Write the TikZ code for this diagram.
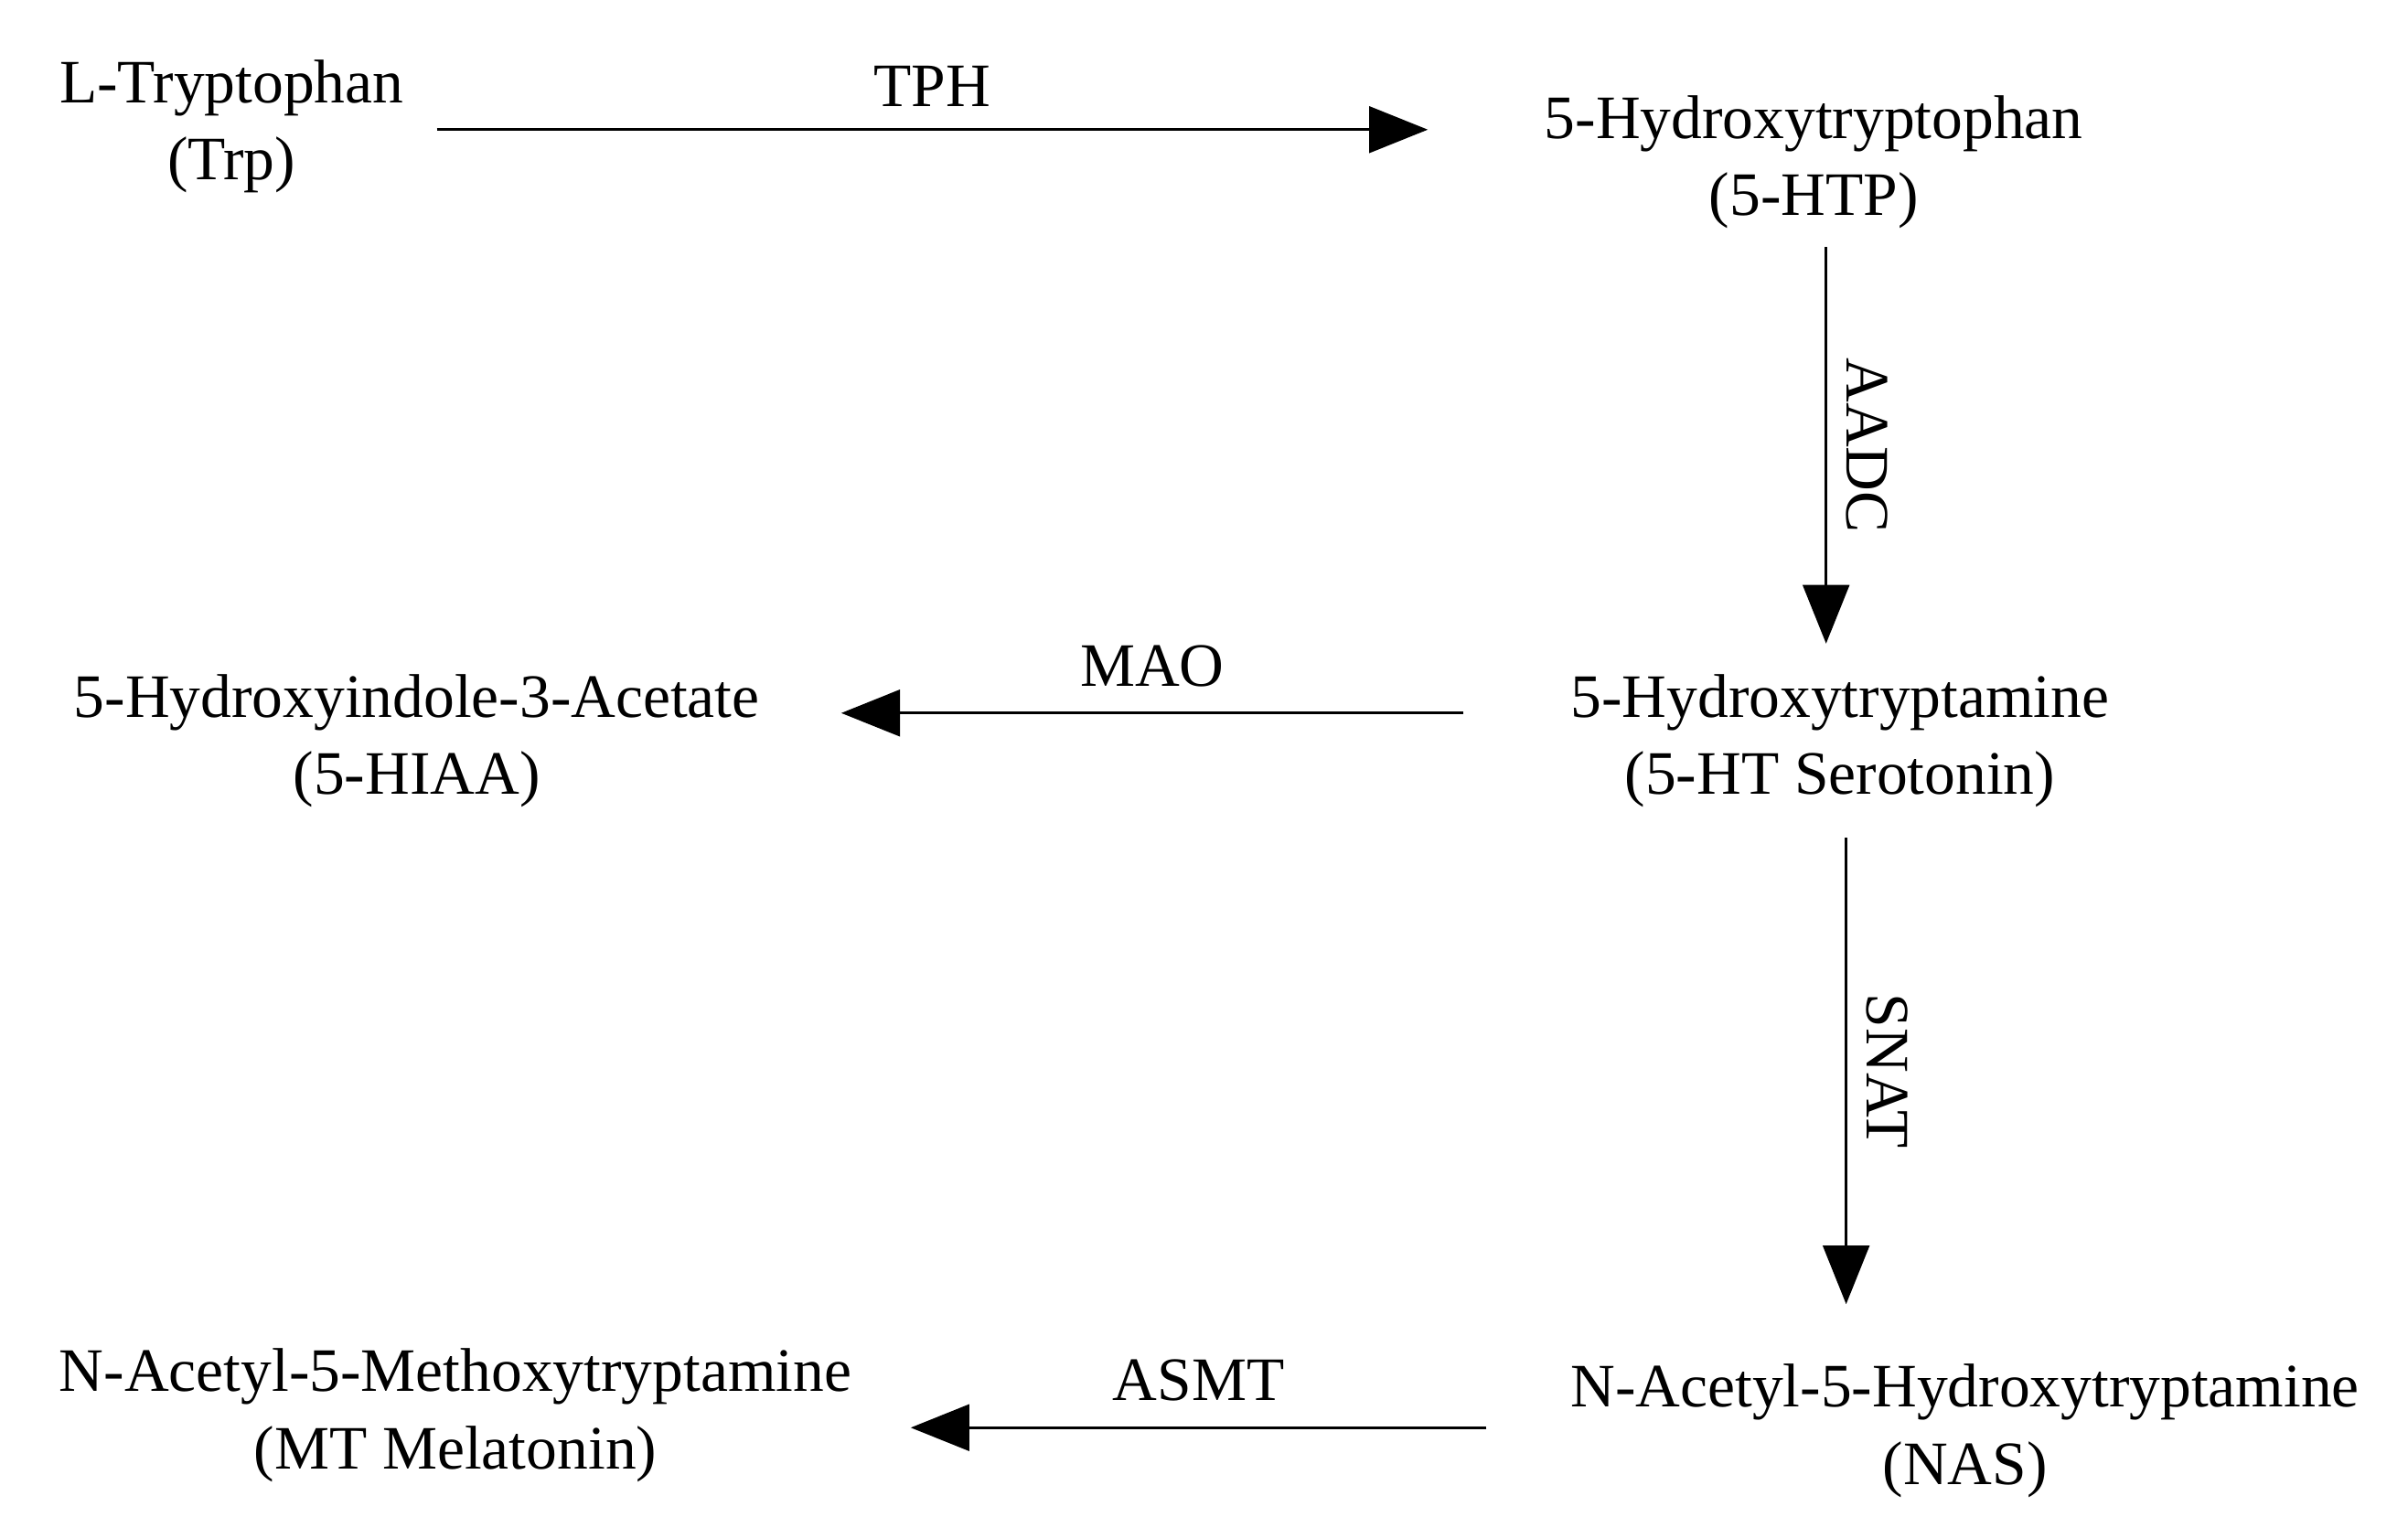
\documentclass[tikz,border=0pt]{standalone}
\usepackage{fontspec}
\setmainfont{Liberation Serif}
\usetikzlibrary{arrows.meta}
\begin{document}
\begin{tikzpicture}[x=1pt,y=-1pt,
  lbl/.style={font=\fontsize{40}{50}\selectfont,align=center,inner sep=0pt},
  arr/.style={line width=2pt,-{Triangle[length=38pt,width=30pt]}}]
\useasboundingbox (0,0) rectangle (1560,990);
\node[lbl] (trp) at (150,82) {L-Tryptophan\\(Trp)};
\node[lbl] (htp) at (1175,105) {5-Hydroxytryptophan\\(5-HTP)};
\node[lbl] (ht) at (1192,480) {5-Hydroxytryptamine\\(5-HT Serotonin)};
\node[lbl] (hiaa) at (270,480) {5-Hydroxyindole-3-Acetate\\(5-HIAA)};
\node[lbl] (nas) at (1273,927) {N-Acetyl-5-Hydroxytryptamine\\(NAS)};
\node[lbl] (mt) at (295,917) {N-Acetyl-5-Methoxytryptamine\\(MT Melatonin)};
\coordinate (a1) at (283,84); \coordinate (a2) at (925,84);
\draw[arr] (a1) -- node[lbl,above=14pt] {TPH} (a2);
\coordinate (b1) at (1183,160); \coordinate (b2) at (1183,417);
\draw[arr] (b1) -- node[lbl,rotate=-90,above=12pt,anchor=south] {AADC} (b2);
\coordinate (c1) at (948,462); \coordinate (c2) at (545,462);
\draw[arr] (c1) -- node[lbl,above=16pt] {MAO} (c2);
\coordinate (d1) at (1196,543); \coordinate (d2) at (1196,845);
\draw[arr] (d1) -- node[lbl,rotate=-90,anchor=south,yshift=12pt] {SNAT} (d2);
\coordinate (e1) at (963,925); \coordinate (e2) at (590,925);
\draw[arr] (e1) -- node[lbl,above=16pt] {ASMT} (e2);
\end{tikzpicture}
\end{document}
